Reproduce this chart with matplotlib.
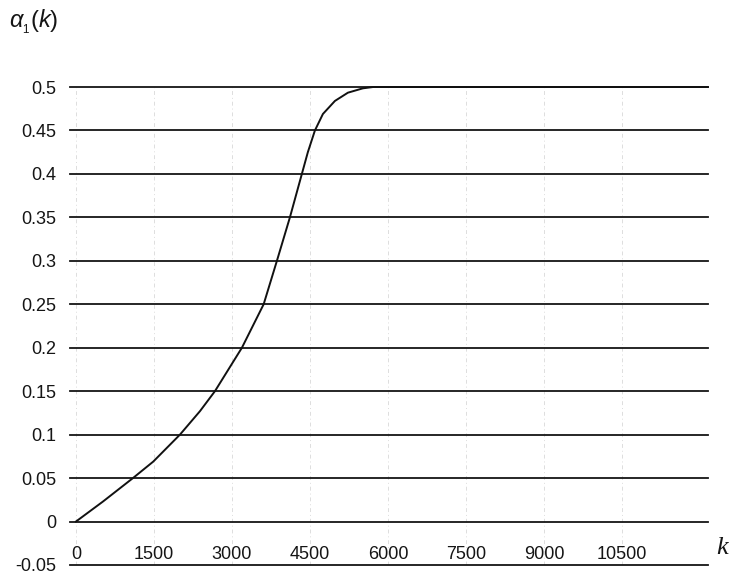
import numpy as np
import matplotlib
matplotlib.use("Agg")
from matplotlib import pyplot as plt

# values
k_values = [0, 519, 1096, 1487, 2000, 2385, 2673, 3192, 3610, 3865, 4115,
            4345, 4460, 4596, 4750, 4981, 5231, 5519, 5712, 12154]
alpha_values = [0.0, 0.023, 0.05, 0.069, 0.1, 0.127, 0.15, 0.2, 0.25, 0.3, 0.35,
                0.4, 0.425, 0.45, 0.469, 0.484, 0.4935, 0.4985, 0.5, 0.5]
x_ticks = [0, 1500, 3000, 4500, 6000, 7500, 9000, 10500]
y_ticks = [-0.05, 0, 0.05, 0.1, 0.15, 0.2, 0.25, 0.3, 0.35, 0.4, 0.45, 0.5]
y_labels = ["-0.05", "0", "0.05", "0.1", "0.15", "0.2", "0.25", "0.3",
            "0.35", "0.4", "0.45", "0.5"]

plt.rcParams["font.family"] = ["Liberation Sans", "DejaVu Sans"]
plt.rcParams["mathtext.fontset"] = "custom"
plt.rcParams["mathtext.it"] = "Liberation Sans:italic"
plt.rcParams["mathtext.rm"] = "Liberation Sans"

fig = plt.figure(figsize=(7.29, 5.79), dpi=100)
ax = fig.add_axes([0.096, 0.0242, 0.875, 0.8255])

# faint dotted verticals (the scan shows them only partly)
for xt in x_ticks:
    ax.axvline(xt, color="#aaaaaa", lw=0.7, ls=(0, (4, 3, 1, 3)), alpha=0.4, zorder=1)

# horizontal grid lines
for yt in y_ticks:
    ax.axhline(yt, color="#151515", lw=1.3, zorder=2, clip_on=False)

ax.plot(k_values, alpha_values, color="#111111", lw=1.4, zorder=3, clip_on=False)

ax.set_xlim(-115, 12154)
ax.set_ylim(-0.05, 0.5)

for s in ax.spines.values():
    s.set_visible(False)

ax.set_yticks(y_ticks)
ax.set_yticklabels(y_labels)
ax.set_xticks(x_ticks)
ax.set_xticklabels([str(x) for x in x_ticks])
ax.tick_params(axis="y", length=0, pad=10, labelsize=13, colors="#151515")
ax.tick_params(axis="x", length=0, pad=-1.5, labelsize=13, colors="#151515")
for lbl in ax.get_xticklabels():
    lbl.set_verticalalignment("bottom")

fig.text(0.013, 0.962, r"$\alpha_{_1}\mathit{(k)}$", fontsize=17, color="#151515",
         ha="left", va="center")
fig.text(0.99, 0.053, "k", fontsize=19, style="italic", color="#151515",
         ha="center", va="center", family="Liberation Serif")

fig.savefig("out.png", dpi=100)
